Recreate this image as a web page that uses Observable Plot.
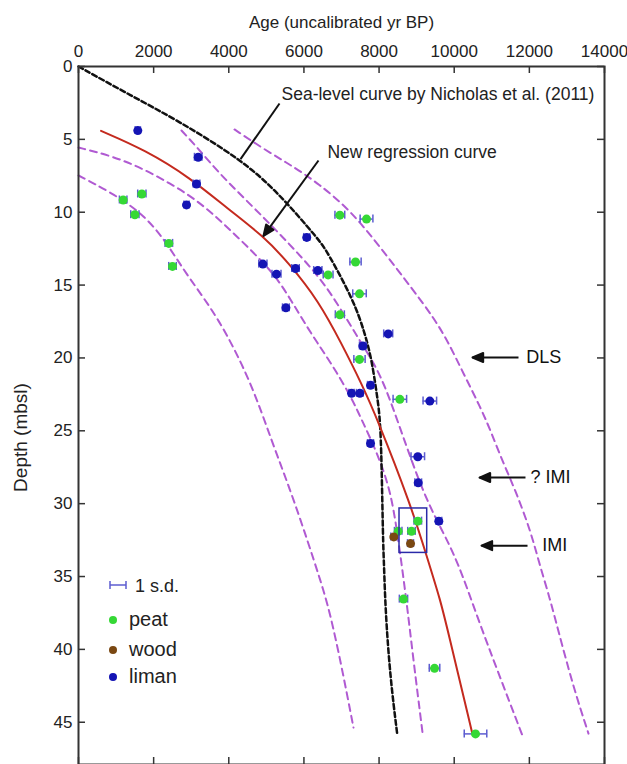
<!DOCTYPE html>
<html><head><meta charset="utf-8">
<script src="https://cdn.jsdelivr.net/npm/d3@7"></script>
<script src="https://cdn.jsdelivr.net/npm/@observablehq/plot@0.6"></script>
<style>body{margin:0;background:#fff;} #chart svg{display:block;}</style>
</head><body><div id="chart"></div>
<script>
// ---------- data ----------
const ageTicks = [0, 2000, 4000, 6000, 8000, 10000, 12000, 14000];
const depthTicks = [0, 5, 10, 15, 20, 25, 30, 35, 40, 45];
const ageDomain = [0, 14000];
const depthDomain = [0, 47.9];

// samples: age (uncal yr BP), depth (mbsl), 1 s.d. (yr)
const peatAge   = [1686, 1189, 1500, 2404, 2502, 6956, 7666, 7373, 6644, 7479, 6956, 7479, 8553, 9031, 8863, 8509, 8650, 9476, 10567];
const peatDepth = [8.75, 9.16, 10.17, 12.14, 13.72, 10.2, 10.47, 13.42, 14.3, 15.6, 17.04, 20.1, 22.84, 31.2, 31.9, 31.9, 36.55, 41.3, 45.8];
const peatSd    = [110, 100, 110, 100, 100, 130, 170, 150, 130, 180, 120, 150, 180, 100, 100, 100, 110, 140, 300];

const woodAge   = [8392, 8837];
const woodDepth = [32.28, 32.74];
const woodSd    = [80, 80];

const limanAge   = [1578, 3186, 3141, 2875, 4907, 5270, 5776, 6370, 6075, 5520, 8243, 7568, 7772, 7267, 7488, 9351, 7772, 9031, 9042, 9590];
const limanDepth = [4.4, 6.23, 8.06, 9.5, 13.56, 14.25, 13.86, 14.0, 11.73, 16.56, 18.35, 19.18, 21.88, 22.43, 22.43, 22.96, 25.87, 26.78, 28.57, 31.2];
const limanSd    = [70, 100, 90, 70, 110, 120, 100, 110, 80, 90, 120, 90, 80, 70, 90, 180, 80, 180, 90, 80];

// new regression curve
const regAge   = [600, 1775, 2970, 3990, 4920, 5590, 6390, 7010, 7540, 7940, 8840, 9280, 9640, 9810, 10480];
const regDepth = [4.42, 5.73, 7.63, 9.8, 11.64, 13.47, 16.08, 19.06, 21.8, 24.1, 30.05, 33.7, 36.7, 38.5, 45.75];

// sea-level curve by Nicholas et al. (2011)
const nichAge   = [0, 1330, 2660, 4320, 5320, 6390, 6610, 7330, 7630, 7810, 7940, 8040, 8080, 8110, 8130, 8170, 8300, 8480];
const nichDepth = [0, 1.9, 3.73, 6.37, 8.66, 11.87, 12.65, 16.08, 18.37, 20.2, 22.5, 24.3, 28.9, 33.0, 34, 37.4, 42, 45.75];

// dashed bands (outer lower, inner lower, inner upper, outer upper)
const bandAAge   = [0, 878, 1783, 2395, 2928, 3726, 4578, 5137, 5643, 6095, 6441, 6681, 7000, 7319];
const bandADepth = [7.48, 8.65, 10.23, 12.29, 14.48, 17.23, 21.55, 25.67, 29.10, 32.53, 35.28, 37.34, 41.11, 45.37];
const bandBAge   = [0, 852, 1650, 2449, 3167, 3833, 4605, 5243, 5696, 6202, 6734, 7266, 7559, 7958, 8304, 8491, 8730, 8916, 9156];
const bandBDepth = [5.56, 6.11, 6.93, 8.03, 9.20, 10.71, 12.63, 14.34, 16.20, 18.39, 20.38, 22.72, 24.37, 26.56, 29.10, 32.05, 36.65, 40.77, 45.71];
const bandCAge   = [2741, 3114, 3726, 4445, 5137, 5776, 6494, 7053, 7532, 8038, 8491, 9023, 9369, 9635, 10087, 10620, 11152, 11817];
const bandCDepth = [4.39, 5.42, 7.28, 9.13, 10.91, 12.63, 14.69, 16.95, 19.01, 21.07, 24.30, 28.21, 30.27, 31.64, 33.91, 37.82, 41.46, 45.92];
const bandDAge   = [4152, 4951, 5669, 6388, 7240, 8038, 8916, 9449, 9821, 10247, 10700, 10966, 11312, 11631, 12030, 12243, 12562, 12748, 13175, 13574];
const bandDDepth = [4.32, 5.70, 6.79, 8.03, 9.88, 12.42, 15.37, 17.23, 18.81, 21.07, 23.40, 24.98, 27.25, 29.10, 31.85, 33.91, 36.65, 38.50, 42.62, 45.78];

// highlighted box (age range, depth range)
const boxAge = [8544, 9281];
const boxDepth = [30.33, 33.38];

// annotations
const annotText  = ["Sea-level curve by Nicholas et al. (2011)", "New regression curve", "DLS", "? IMI", "IMI"];
const annotAge   = [5403, 6627, 11916, 12030, 12342];
const annotDepth = [1.92, 5.90, 19.97, 28.21, 32.88];
const pointerFrom = [5350, 2.54];
const pointerTo   = [4312, 6.36];
const arrowFromAge   = [6388, 11711, 11897, 11951];
const arrowFromDepth = [6.45, 19.97, 28.21, 32.88];
const arrowToAge     = [4924, 10487, 10673, 10726];
const arrowToDepth   = [11.62, 19.97, 28.21, 32.88];

const legendLabels = ["peat", "wood", "liman"];

// ---------- build ----------
const FONT = "'Liberation Sans', Arial, Helvetica, sans-serif";
const colors = {peat: "#35d835", wood: "#7a4812", liman: "#1414b4"};
const errColor = "#5c5cd0";
const purple = "#b05ad2";

const rows = (a, d) => a.map((v, i) => ({age: v, depth: d[i]}));
const samples = (a, d, s, type) => a.map((v, i) => ({age: v, depth: d[i], sd: s[i], type}));
const peat = samples(peatAge, peatDepth, peatSd, "peat");
const wood = samples(woodAge, woodDepth, woodSd, "wood");
const liman = samples(limanAge, limanDepth, limanSd, "liman");
const all = [...liman, ...peat, ...wood];
const annots = annotText.map((t, i) => ({text: t, age: annotAge[i], depth: annotDepth[i]}));
const arrows = arrowFromAge.map((v, i) => ({x1: v, y1: arrowFromDepth[i], x2: arrowToAge[i], y2: arrowToDepth[i]}));

const bandStyle = {x: "age", y: "depth", stroke: purple, strokeWidth: 2, strokeDasharray: "7,5", curve: "basis"};

const chart = Plot.plot({
  width: 627, height: 764,
  marginLeft: 78, marginRight: 23, marginTop: 66, marginBottom: 0,
  style: {fontFamily: FONT, background: "#fff", color: "#222"},
  x: {domain: ageDomain},
  y: {domain: depthDomain, reverse: true},
  marks: [
    Plot.line(rows(bandAAge, bandADepth), bandStyle),
    Plot.line(rows(bandBAge, bandBDepth), bandStyle),
    Plot.line(rows(bandCAge, bandCDepth), bandStyle),
    Plot.line(rows(bandDAge, bandDDepth), bandStyle),
    Plot.line(rows(nichAge, nichDepth), {x: "age", y: "depth", stroke: "#111", strokeWidth: 2.5, strokeDasharray: "5,3", curve: "basis"}),
    Plot.line(rows(regAge, regDepth), {x: "age", y: "depth", stroke: "#c42a1e", strokeWidth: 2, curve: "basis"}),
    // error bars
    Plot.ruleY(all, {y: "depth", x1: d => d.age - d.sd, x2: d => d.age + d.sd, stroke: errColor, strokeWidth: 1.5}),
    Plot.ruleX(all, {x: d => d.age - d.sd, y1: "depth", y2: "depth", insetTop: -4, insetBottom: -4, stroke: errColor, strokeWidth: 1.5}),
    Plot.ruleX(all, {x: d => d.age + d.sd, y1: "depth", y2: "depth", insetTop: -4, insetBottom: -4, stroke: errColor, strokeWidth: 1.5}),
    // points
    Plot.dot(liman, {x: "age", y: "depth", r: 4.5, fill: colors.liman}),
    Plot.dot(peat, {x: "age", y: "depth", r: 4.5, fill: colors.peat}),
    Plot.dot(wood, {x: "age", y: "depth", r: 4.5, fill: colors.wood}),
    // box
    Plot.rect([{}], {x1: () => boxAge[0], x2: () => boxAge[1], y1: () => boxDepth[0], y2: () => boxDepth[1], fill: "none", stroke: "#2a2aa8", strokeWidth: 1.5}),
    // annotations
    Plot.link([{}], {x1: () => pointerFrom[0], y1: () => pointerFrom[1], x2: () => pointerTo[0], y2: () => pointerTo[1], stroke: "#111", strokeWidth: 2}),
    Plot.link(arrows, {x1: "x1", y1: "y1", x2: "x2", y2: "y2", stroke: "#111", strokeWidth: 2, markerEnd: "arrow"}),
    Plot.text(annots.slice(0, 2), {x: "age", y: "depth", text: "text", textAnchor: "start", fontSize: 17.5, fill: "#222"}),
    Plot.text(annots.slice(2), {x: "age", y: "depth", text: "text", textAnchor: "start", fontSize: 18, fill: "#111"}),
    // frame and ticks
    Plot.frame({stroke: "#333", strokeWidth: 2}),
    Plot.ruleX(ageTicks, {x: d => d, y1: () => depthDomain[0], y2: () => depthDomain[0], insetBottom: -7, stroke: "#333", strokeWidth: 1.5}),
    Plot.ruleX(ageTicks, {x: d => d, y1: () => depthDomain[1], y2: () => depthDomain[1], insetTop: -7, stroke: "#333", strokeWidth: 1.5}),
    Plot.ruleY(depthTicks, {y: d => d, x1: () => ageDomain[0], x2: () => ageDomain[0], insetRight: -7, stroke: "#333", strokeWidth: 1.5}),
    Plot.ruleY(depthTicks, {y: d => d, x1: () => ageDomain[1], x2: () => ageDomain[1], insetLeft: -7, stroke: "#333", strokeWidth: 1.5}),
    Plot.axisX(ageTicks, {anchor: "top", tickSize: 0, tickPadding: 10, fontSize: 17, label: null, tickFormat: d => String(d)}),
    Plot.axisY(depthTicks, {anchor: "left", tickSize: 0, tickPadding: 6, fontSize: 17, label: null, tickFormat: d => String(d)}),
    Plot.text(["Age (uncalibrated yr BP)"], {text: d => d, frameAnchor: "top", dy: -44, lineAnchor: "middle", textAnchor: "middle", fontSize: 17, fill: "#222"}),
    Plot.text(["Depth (mbsl)"], {text: d => d, frameAnchor: "left", dx: -58, dy: 22, rotate: -90, textAnchor: "middle", lineAnchor: "middle", fontSize: 19, fill: "#222"})
  ]
});

// filled arrowheads
chart.querySelectorAll("marker").forEach(m => {
  m.setAttribute("fill", m.getAttribute("stroke") || "#111");
  m.setAttribute("overflow", "visible");
  const p = m.querySelector("path");
  if (p) p.setAttribute("d", "M-8,-3.4L0,0L-8,3.4Z");
});

// legend (inside the frame, lower left)
const svg = d3.select(chart);
const lg = svg.append("g").attr("font-family", FONT).attr("fill", "#222").attr("text-anchor", "start");
lg.append("line").attr("x1", 110).attr("x2", 126).attr("y1", 585).attr("y2", 585).attr("stroke", errColor).attr("stroke-width", 1.5);
lg.append("line").attr("x1", 110).attr("x2", 110).attr("y1", 581).attr("y2", 589).attr("stroke", errColor).attr("stroke-width", 1.5);
lg.append("line").attr("x1", 126).attr("x2", 126).attr("y1", 581).attr("y2", 589).attr("stroke", errColor).attr("stroke-width", 1.5);
lg.append("text").attr("x", 135).attr("y", 591.5).attr("font-size", 18).text("1 s.d.");
legendLabels.forEach((lab, i) => {
  const y = [620, 650, 677][i];
  lg.append("circle").attr("cx", 113).attr("cy", y).attr("r", 4).attr("fill", colors[lab]);
  lg.append("text").attr("x", 129).attr("y", y + 5.5).attr("font-size", 20).text(lab);
});

document.getElementById("chart").appendChild(chart);
</script>
</body></html>
